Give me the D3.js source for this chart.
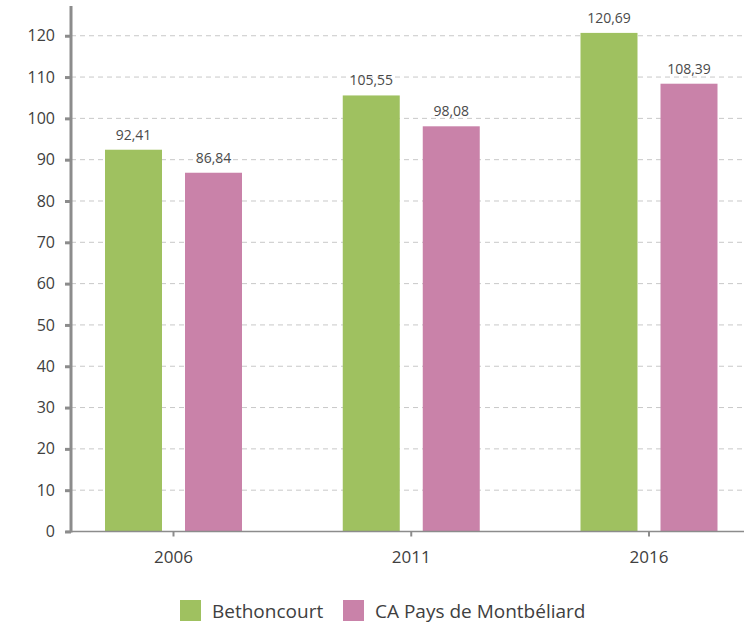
<!DOCTYPE html>
<html>
<head>
<meta charset="utf-8">
<script src="https://cdn.jsdelivr.net/npm/d3@7"></script>
<style>
  body { margin: 0; background: #fff; }
  svg text { font-family: "Open Sans", "DejaVu Sans", sans-serif; }
</style>
</head>
<body>
<div id="chart"></div>
<script>
// values
var years = ['2006', '2011', '2016'];
var seriesNames = ['Bethoncourt', 'CA Pays de Montbéliard'];
var bethoncourt = [92.41, 105.55, 120.69];
var caPays = [86.84, 98.08, 108.39];
var yTicks = [0, 10, 20, 30, 40, 50, 60, 70, 80, 90, 100, 110, 120];
var colors = ['#9fc160', '#c982a9'];

var width = 744, height = 624;
var svg = d3.select('#chart').append('svg')
    .attr('width', width)
    .attr('height', height);

var x0 = 71, yBottom = 531.5, yTop = 6;

var y = d3.scaleLinear().domain([0, 127.2]).range([yBottom, yTop]);
var x = d3.scalePoint().domain(years).range([173.5, 649]);
var xs = d3.scaleBand().domain(seriesNames).range([-68.5, 68.5]).paddingInner(0.2875);

var fmt = function(v) { return d3.format('.2f')(v).replace('.', ','); };

// gridlines
svg.append('g').selectAll('line')
    .data(yTicks.filter(function(t) { return t > 0; }))
    .join('line')
      .attr('x1', x0).attr('x2', 742)
      .attr('y1', function(d) { return y(d); })
      .attr('y2', function(d) { return y(d); })
      .attr('stroke', '#c8c8c8')
      .attr('stroke-width', 1)
      .attr('stroke-dasharray', '5,4');

// bars
var data = years.map(function(yr, i) {
  return [
    { year: yr, name: seriesNames[0], value: bethoncourt[i], color: colors[0] },
    { year: yr, name: seriesNames[1], value: caPays[i], color: colors[1] }
  ];
});
var flat = [].concat.apply([], data);

svg.append('g').selectAll('rect')
    .data(flat)
    .join('rect')
      .attr('x', function(d) { return x(d.year) + xs(d.name); })
      .attr('width', xs.bandwidth())
      .attr('y', function(d) { return y(d.value); })
      .attr('height', function(d) { return yBottom - y(d.value); })
      .attr('fill', function(d) { return d.color; });

// value labels
svg.append('g').selectAll('text')
    .data(flat)
    .join('text')
      .attr('x', function(d) { return x(d.year) + xs(d.name) + xs.bandwidth() / 2; })
      .attr('y', function(d) { return y(d.value) - 10; })
      .attr('text-anchor', 'middle')
      .attr('font-size', 14)
      .attr('fill', '#4a4a4a')
      .text(function(d) { return fmt(d.value); });

// x axis
var xAxis = svg.append('g')
    .attr('transform', 'translate(0,' + yBottom + ')');
xAxis.append('line')
    .attr('x1', 66).attr('x2', 744)
    .attr('stroke', '#8c8c8c').attr('stroke-width', 1.5);
xAxis.selectAll('line.tick')
    .data(years)
    .join('line')
      .attr('class', 'tick')
      .attr('x1', function(d) { return x(d); })
      .attr('x2', function(d) { return x(d); })
      .attr('y1', 0).attr('y2', 5)
      .attr('stroke', '#8c8c8c').attr('stroke-width', 2);
xAxis.selectAll('text')
    .data(years)
    .join('text')
      .attr('x', function(d) { return x(d); })
      .attr('y', 31)
      .attr('text-anchor', 'middle')
      .attr('font-size', 17)
      .attr('fill', '#404040')
      .text(function(d) { return d; });

// y axis
var yAxis = d3.axisLeft(y).tickValues(yTicks).tickSize(6).tickPadding(10);
var ya = svg.append('g')
    .attr('transform', 'translate(' + x0 + ',0)')
    .call(yAxis);
ya.select('.domain')
    .attr('d', 'M0,' + yTop + 'V' + (yBottom + 1))
    .attr('stroke', '#8c8c8c').attr('stroke-width', 3);
ya.selectAll('.tick line').attr('stroke', '#8c8c8c').attr('stroke-width', 3);
ya.selectAll('.tick text')
    .attr('font-size', 16)
    .attr('fill', '#404040')
    .style('font-family', '"Open Sans", sans-serif');

// legend
var legend = svg.append('g').attr('transform', 'translate(180,600)');
var legX = [0, 163];
seriesNames.forEach(function(name, i) {
  var g = legend.append('g').attr('transform', 'translate(' + legX[i] + ',0)');
  g.append('rect').attr('width', 21).attr('height', 21).attr('fill', colors[i]);
  g.append('text')
    .attr('x', 32).attr('y', 18)
    .attr('font-size', 19)
    .attr('fill', '#404040')
    .text(name);
});
</script>
</body>
</html>
